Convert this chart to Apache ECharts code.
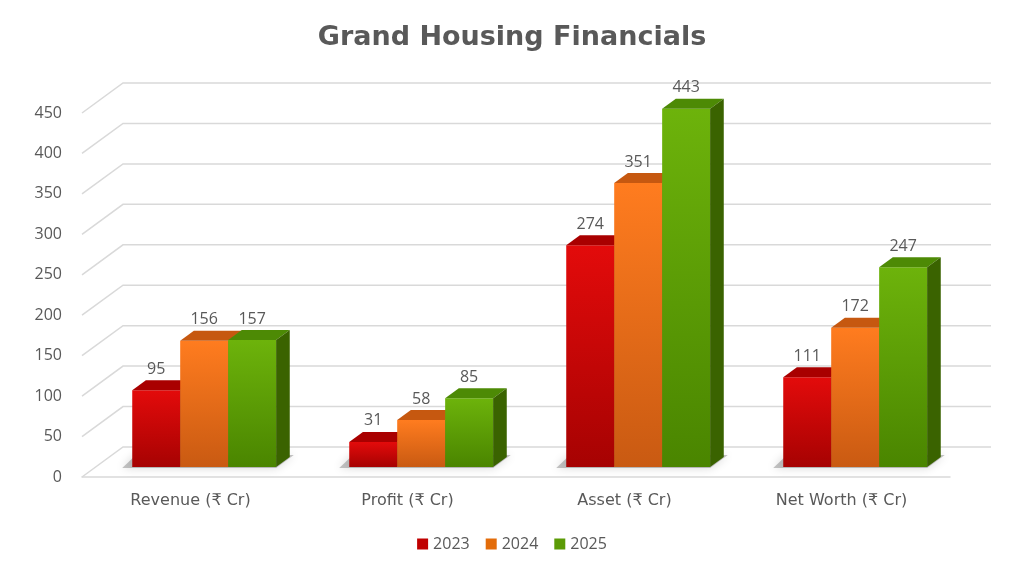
<!DOCTYPE html>
<html>
<head>
<meta charset="utf-8">
<script src="https://cdn.jsdelivr.net/npm/echarts@6/dist/echarts.min.js"></script>
<style>
html,body{margin:0;padding:0;background:#fff}
#chart{width:1024px;height:565px}
</style>
</head>
<body>
<div id="chart"></div>
<script>
// chart data
var categories=["Revenue (₹ Cr)","Profit (₹ Cr)","Asset (₹ Cr)","Net Worth (₹ Cr)"];
var years=["2023","2024","2025"];
var values2023=[95,31,274,111];
var values2024=[156,58,351,172];
var values2025=[157,85,443,247];
var yTicks=[0,50,100,150,200,250,300,350,400,450];

// depth of the floor (px), bars sit in the middle third
var DX=41,DY=-30;
var BAR_SHARE=0.221;
var FONT="'Open Sans', 'DejaVu Sans', sans-serif";
var WIDE="'DejaVu Sans', 'Open Sans', sans-serif";

var palette=[
    {front:["#e30b0b","#a60202"],top:"#a90000",side:"#7d0000",legend:"#c00000"},
    {front:["#ff7c1f","#c95a12"],top:"#c65810",side:"#a84a0c",legend:"#e36c0a"},
    {front:["#6db30b","#4a8500"],top:"#4d8a05",side:"#3a6300",legend:"#5b9b06"}
];

function toPairs(arr){
    var out=[];
    for(var i=0;i<arr.length;i++){out.push([i,arr[i]]);}
    return out;
}

function barRenderer(j){
    return function(params,api){
        var i=api.value(0),v=api.value(1);
        var base=api.coord([i,0]),top=api.coord([i,v]);
        var bw=api.size([1,0])[0]*BAR_SHARE;
        var ox=DX/3,oy=DY/3;
        var x0=base[0]-1.5*bw+j*bw+ox,x1=x0+bw;
        var yb=base[1]+oy,yt=top[1]+oy;
        var c=palette[j];
        return {
            type:"group",
            children:[
                {type:"rect",shape:{x:x0,y:yt,width:bw,height:yb-yt},
                    style:{fill:new echarts.graphic.LinearGradient(0,0,0,1,[{offset:0,color:c.front[0]},{offset:1,color:c.front[1]}])}},
                {type:"polygon",shape:{points:[[x0,yt],[x1,yt],[x1+ox,yt+oy],[x0+ox,yt+oy]]},
                    style:{fill:c.top}},
                {type:"polygon",shape:{points:[[x1,yt],[x1+ox,yt+oy],[x1+ox,yb+oy],[x1,yb]]},
                    style:{fill:c.side}},
                {type:"text",x:(x0+x1)/2,y:yt+oy-3,
                    style:{text:String(v),fill:"#595959",font:"16px "+FONT,align:"center",verticalAlign:"bottom"}}
            ]
        };
    };
}

// soft floor shadow under each group of bars
function shadowRenderer(params,api){
    var i=api.value(0);
    var base=api.coord([i,0]);
    var bw=api.size([1,0])[0]*BAR_SHARE;
    var ox=DX/3,oy=DY/3;
    var x0=base[0]-1.5*bw+ox,x1=x0+3*bw;
    var yb=base[1]+oy;
    return {
        type:"polygon",
        shape:{points:[[x0-10,yb+1],[x1,yb+1],[x1+ox+4,yb+oy-2],[x0+ox-10,yb+oy-2]]},
        style:{fill:"rgba(90,90,90,0.35)",shadowBlur:10,shadowColor:"rgba(0,0,0,0.45)"},
        silent:true
    };
}

function gridRenderer(params,api){
    var cs=params.coordSys;
    var y=api.coord([0,api.value(1)])[1];
    return {
        type:"polyline",
        shape:{points:[[cs.x,y],[cs.x+DX,y+DY],[cs.x+cs.width+DX,y+DY]]},
        style:{stroke:"#d9d9d9",lineWidth:1.5,fill:null},
        silent:true
    };
}

var yearValues=[values2023,values2024,values2025];
var series=[{
    name:"grid",
    type:"custom",
    renderItem:gridRenderer,
    data:yTicks.map(function(v){return [0,v];}),
    encode:{x:0,y:1},
    z:1,
    silent:true
},{
    name:"shadow",
    type:"custom",
    renderItem:shadowRenderer,
    data:categories.map(function(c,i){return [i,0];}),
    encode:{x:0,y:1},
    z:1.5,
    silent:true
}];
for(var j=0;j<years.length;j++){
    series.push({
        name:years[j],
        type:"custom",
        renderItem:barRenderer(j),
        data:toPairs(yearValues[j]),
        encode:{x:0,y:1},
        itemStyle:{color:palette[j].legend},
        z:2+j
    });
}

var chart=echarts.init(document.getElementById("chart"));
chart.setOption({
    backgroundColor:"#fff",
    animation:false,
    textStyle:{fontFamily:FONT},
    title:{
        text:"Grand Housing Financials",
        left:"center",
        top:19,
        textStyle:{fontSize:27,fontWeight:"bold",color:"#595959",fontFamily:WIDE}
    },
    legend:{
        data:years,
        bottom:8,
        left:"center",
        icon:"rect",
        itemWidth:11,
        itemHeight:11,
        itemGap:16,
        textStyle:{fontSize:16,color:"#595959",fontFamily:FONT}
    },
    grid:{left:82,right:74,top:113,bottom:88},
    xAxis:{
        type:"category",
        data:categories,
        axisLine:{show:true,lineStyle:{color:"#d9d9d9",width:1.5}},
        axisTick:{show:false},
        axisLabel:{color:"#595959",fontSize:16,margin:16,fontFamily:WIDE},
        splitLine:{show:false}
    },
    yAxis:{
        type:"value",
        min:0,
        max:450,
        interval:50,
        axisLine:{show:false},
        axisTick:{show:false},
        axisLabel:{color:"#595959",fontSize:16,margin:20,fontFamily:FONT},
        splitLine:{show:false}
    },
    series:series
});
</script>
</body>
</html>
